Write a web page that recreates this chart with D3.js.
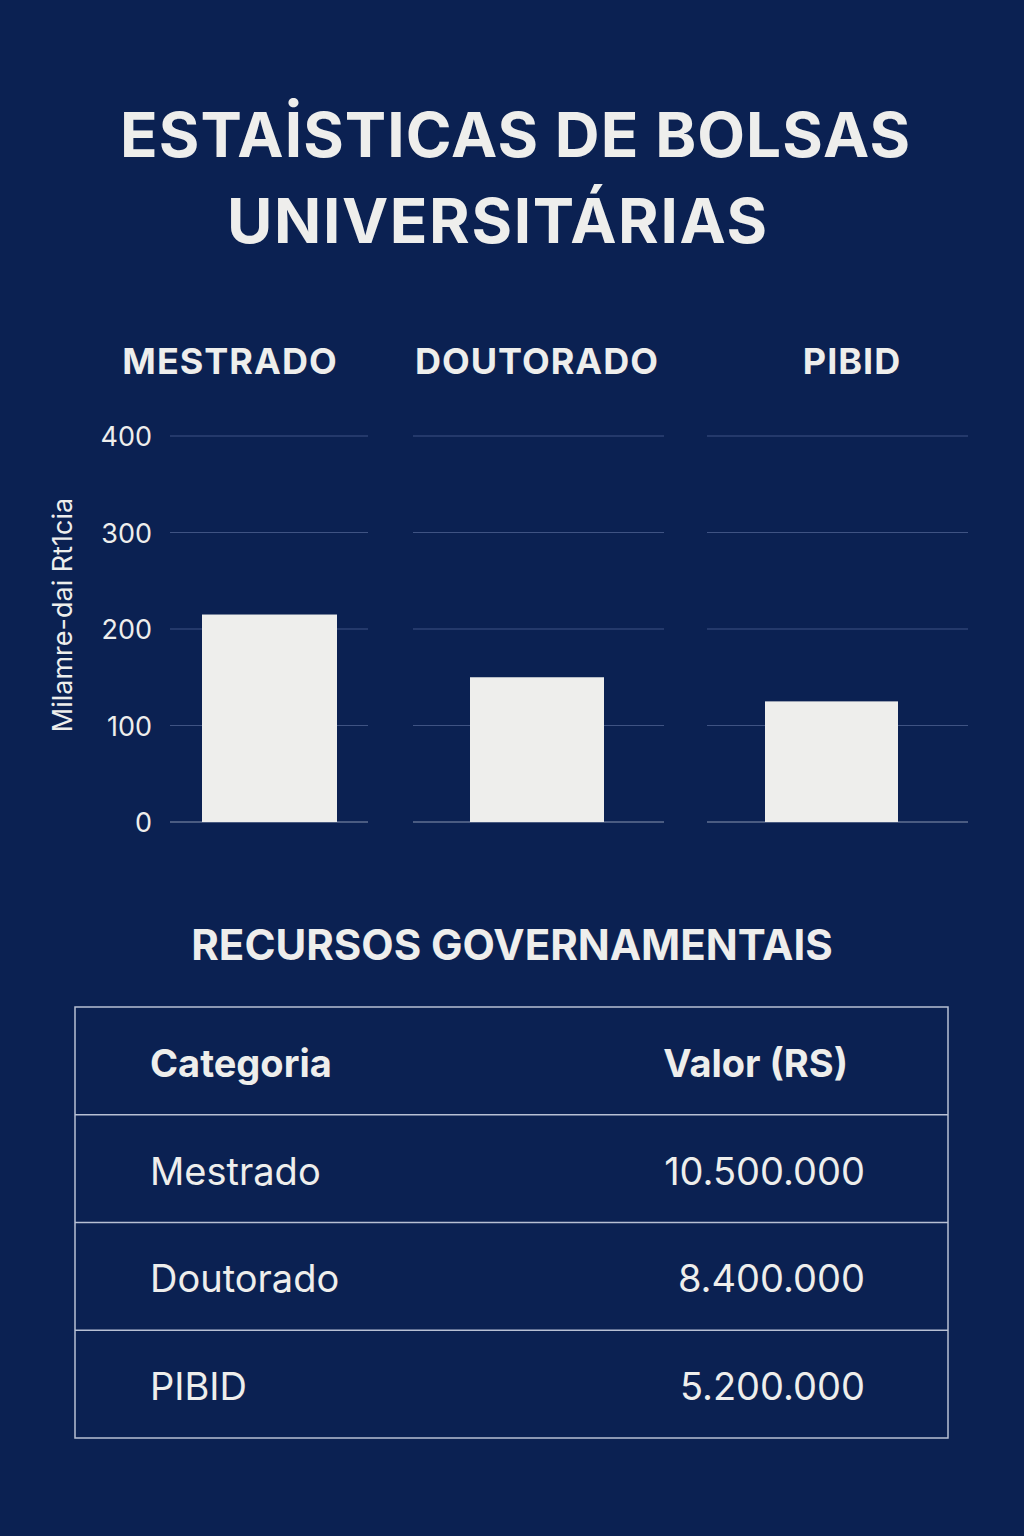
<!DOCTYPE html>
<html><head><meta charset="utf-8">
<script src="https://cdn.jsdelivr.net/npm/d3@7"></script>
<style>body{margin:0;background:#0b2152;}</style>
</head><body>
<script>
const categories = ["MESTRADO", "DOUTORADO", "PIBID"];
const bolsas = [215, 150, 125];
const yTicks = [0, 100, 200, 300, 400];
const tableHeader = ["Categoria", "Valor (RS)"];
const tableNames = ["Mestrado", "Doutorado", "PIBID"];
const tableValues = ["10.500.000", "8.400.000", "5.200.000"];

const W = 1024, H = 1536, BG = "#0b2152", FG = "#eeeeec";
const font = "Inter, 'Open Sans', sans-serif";
const svg = d3.select("body").append("svg").attr("width", W).attr("height", H);
svg.append("rect").attr("width", W).attr("height", H).attr("fill", BG);

// title
svg.append("text").attr("x", 515).attr("y", 157).attr("text-anchor", "middle")
  .attr("fill", FG).attr("font-family", font).attr("font-weight", 700).attr("font-size", 62)
  .attr("textLength", 790).text("ESTAİSTICAS DE BOLSAS");
svg.append("text").attr("x", 497).attr("y", 243).attr("text-anchor", "middle")
  .attr("fill", FG).attr("font-family", font).attr("font-weight", 700).attr("font-size", 62)
  .attr("textLength", 540).text("UNIVERSITÁRIAS");

const y = d3.scaleLinear().domain([0, 400]).range([822, 436]);
// panel extents (gridline ranges) and bar ranges
const panels = [
  {x0: 170, x1: 368, b0: 202, b1: 337, tx: 230},
  {x0: 413, x1: 664, b0: 470, b1: 604, tx: 537},
  {x0: 707, x1: 968, b0: 765, b1: 898, tx: 852}
];

categories.forEach((c, i) => {
  const p = panels[i];
  const g = svg.append("g");
  g.selectAll("line").data(yTicks).join("line")
    .attr("x1", p.x0).attr("x2", p.x1)
    .attr("y1", d => y(d)).attr("y2", d => y(d))
    .attr("stroke", d => d === 0 ? "#8a95b0" : "#3f5383").attr("stroke-width", 1.2);
  const x = d3.scaleBand().domain([c]).range([p.b0, p.b1]).padding(0);
  g.append("rect").attr("x", x(c)).attr("width", x.bandwidth())
    .attr("y", y(bolsas[i])).attr("height", y(0) - y(bolsas[i])).attr("fill", FG);
  g.append("text").attr("x", p.tx).attr("y", 374).attr("text-anchor", "middle")
    .attr("fill", FG).attr("font-family", font).attr("font-weight", 700).attr("font-size", 36)
    .attr("letter-spacing", 1).text(c);
});

svg.append("g").selectAll("text").data(yTicks).join("text")
  .attr("x", 152).attr("y", d => y(d) + 10).attr("text-anchor", "end")
  .attr("fill", FG).attr("font-family", font).attr("font-size", 27).text(d => d);

svg.append("text").attr("transform", "translate(72,615) rotate(-90)").attr("text-anchor", "middle")
  .attr("fill", FG).attr("font-family", font).attr("font-size", 27).text("Milamre-dai Rt1cia");

// table
svg.append("text").attr("x", 512).attr("y", 960).attr("text-anchor", "middle")
  .attr("fill", FG).attr("font-family", font).attr("font-weight", 700).attr("font-size", 42)
  .text("RECURSOS GOVERNAMENTAIS");

const tx0 = 75, tx1 = 948;
const rowY = d3.scaleLinear().domain([0, 4]).range([1007, 1438]);
svg.append("rect").attr("x", tx0).attr("y", rowY(0)).attr("width", tx1 - tx0)
  .attr("height", rowY(4) - rowY(0)).attr("fill", "none").attr("stroke", "#b8c0d4").attr("stroke-width", 1.5);
svg.append("g").selectAll("line").data([1, 2, 3]).join("line")
  .attr("x1", tx0).attr("x2", tx1).attr("y1", d => rowY(d)).attr("y2", d => rowY(d))
  .attr("stroke", "#b8c0d4").attr("stroke-width", 1.5);

const mid = i => (rowY(i) + rowY(i + 1)) / 2 + 16;
svg.append("text").attr("x", 150).attr("y", mid(0)).attr("fill", FG).attr("font-family", font)
  .attr("font-weight", 700).attr("font-size", 38).text(tableHeader[0]);
svg.append("text").attr("x", 848).attr("y", mid(0)).attr("text-anchor", "end").attr("fill", FG)
  .attr("font-family", font).attr("font-weight", 700).attr("font-size", 38).text(tableHeader[1]);
tableNames.forEach((n, i) => {
  svg.append("text").attr("x", 150).attr("y", mid(i + 1)).attr("fill", FG).attr("font-family", font)
    .attr("font-size", 38).text(n);
  svg.append("text").attr("x", 865).attr("y", mid(i + 1)).attr("text-anchor", "end").attr("fill", FG)
    .attr("font-family", font).attr("font-size", 38).text(tableValues[i]);
});
</script>
</body></html>
